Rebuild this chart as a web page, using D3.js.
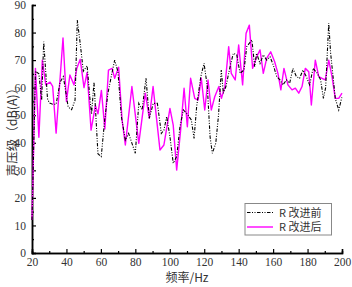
<!DOCTYPE html>
<html><head><meta charset="utf-8">
<script src="https://cdn.jsdelivr.net/npm/d3@7"></script>
<style>html,body{margin:0;padding:0;background:#fff;}svg{display:block;}</style>
</head><body>
<svg id="c" width="352" height="287"></svg>
<script>
// Series "R 改进前" (before) — frequency (Hz) and level dB(A)
const freqBefore = [20,22,24,25.6,26.8,29,30,32,34,36.3,38.2,41,43,45,46.3,48,49.8,52,53.7,54.6,56,58.3,60.2,62.2,64.1,66,68,69.9,71.9,74.2,76.1,80,82,83.9,86.2,88.1,90.4,92.8,95.1,96.6,98.2,100.1,102,104,105.9,107.9,109.8,112.5,114.1,115.6,118,119.9,121.8,123.4,124.7,126.7,128.3,129.9,131.1,132.6,135,136.9,138.9,140.8,143.1,144.7,147.7,149.3,150.4,152.4,154.3,156.3,158.2,160.1,162.1,164,165.7,167.7,169.6,171.5,173.5,175.4,177.3,179.3,181.2,183.2,185.7,187.6,189.2,190.5,192.3,193.4,194.8,196.1,198.1,200];
const levelBefore = [12,66,65,55.5,76.7,56,54.5,54,54,62,64,53,52,55.5,84.5,76,66,68,55.5,50.5,62,36,35,48.3,58,64,70,65.8,49.5,41,43.4,36.2,54.3,51.9,63.4,48.9,54.3,54.3,43.4,44.6,49.5,42.2,32.6,35,45.8,51.9,50.7,48.3,41.6,53.1,64,68.8,60.4,42.2,36.2,39.8,50,66.4,58,60.4,67.6,72.5,71.9,65.2,66.4,74.9,77.3,67.6,72.5,68.8,71.9,70,71.2,68.2,64,62.8,61,62.8,61.6,67,64,63.4,66.4,64,61,67,65.2,62.8,56.1,60,83.4,72.5,64,56.1,51.9,56.7];
// Series "R 改进后" (after)
const freqAfter = [20,22,24,26,28,30.5,32,34,38,40,42,44.4,46,48,50.2,52,54.3,56.8,58.3,60.3,62.3,64.4,66.5,68,70.3,72.3,74.2,78,82,85.8,88.1,90.3,94.3,96.6,100.1,102,104,106.3,108.3,110.2,112.1,114.5,116.4,118.3,120.3,122.2,124.1,126.1,128.5,130,132,134.2,135.7,138,140,142.3,144.3,146.2,148.1,150.5,152.4,154.3,156.3,158.6,160.9,162.8,164.5,166.3,168.6,171,172.9,174.9,176.8,178.7,180.7,182.2,184.5,186.5,188.4,190.3,192.3,194.2,196.1,198.1,200];
const levelAfter = [12,67,42,70,61,62,60.5,43.5,78,55,64.6,61,67,70.3,60,65.5,44.6,53.5,50.5,59,45,66.4,67,63.4,67.4,48.3,39.2,60.4,39.8,58,48.9,60.4,37.4,39.2,52.5,46.4,30.1,44.6,59.8,45.8,63.4,56.1,55.5,63.4,51.9,62.8,51.9,56.7,60.4,56.1,60.4,74.9,65.2,62.8,75.5,61,79.7,82.7,67,71.2,73.7,65.2,70.7,73,69.4,65.2,59.2,67,61,59.2,59.8,58,60.4,67,65.8,53.7,70,64,63.4,62.8,70,64,56.1,56.1,58];
const xTicks = [20,40,60,80,100,120,140,160,180,200];
const yTicks = [0,10,20,30,40,50,60,70,80,90];
const seriesNames = ["R 改进前","R 改进后"];
const xTitle = "频率/Hz";
const yTitle = "声压级（dB(A)）";

const svg = d3.select("#c");
const x = d3.scaleLinear().domain([20,200]).range([32,342]);
const y = d3.scaleLinear().domain([0,90]).range([253,5]);
const numFont = "'Liberation Serif','Times New Roman',serif";

// minor ticks
const xMinor = d3.range(30,200,20);
const yMinor = d3.range(5,90,10);

const gx = svg.append("g").attr("transform","translate(0,253)");
gx.call(d3.axisBottom(x).tickValues(xTicks).tickSize(-4).tickPadding(5).tickFormat(d3.format("d")));
gx.append("g").call(d3.axisBottom(x).tickValues(xMinor).tickSize(-2).tickFormat(""));
const gy = svg.append("g").attr("transform","translate(32,0)");
gy.call(d3.axisLeft(y).tickValues(yTicks).tickSize(-4).tickPadding(6).tickFormat(d3.format("d")));
gy.append("g").call(d3.axisLeft(y).tickValues(yMinor).tickSize(-2).tickFormat(""));
svg.selectAll(".domain").attr("stroke","#000").attr("stroke-width",1.5);
svg.selectAll(".tick line").attr("stroke","#000").attr("stroke-width",1.2);
svg.selectAll(".tick text").attr("font-family",numFont).attr("font-size",11.5).attr("fill","#333");

const line = d3.line().x(d=>x(d[0])).y(d=>y(d[1]));
const dataBefore = freqBefore.map((f,i)=>[f,levelBefore[i]]);
const dataAfter = freqAfter.map((f,i)=>[f,levelAfter[i]]);
const dashStyle = "3.5,1.5,1,1.5,1,1.5";

svg.append("path").datum(dataAfter).attr("d",line).attr("fill","none")
  .attr("stroke","#ff00ff").attr("stroke-width",1.4).attr("stroke-linejoin","round");
svg.append("path").datum(dataBefore).attr("d",line).attr("fill","none")
  .attr("stroke","#000").attr("stroke-width",1.1).attr("stroke-dasharray",dashStyle);

// axis titles
svg.append("text").attr("x",187).attr("y",282).attr("text-anchor","middle")
  .attr("font-family","'Noto Sans CJK SC',sans-serif").attr("font-size",12).attr("fill","#333").text(xTitle);
svg.append("text").attr("transform","translate(17,129) rotate(-90)").attr("text-anchor","middle")
  .attr("font-family","'Noto Sans CJK SC',sans-serif").attr("font-size",12.5).attr("fill","#333").text(yTitle);

// legend
const lg = svg.append("g");
lg.append("rect").attr("x",245).attr("y",203.5).attr("width",86.5).attr("height",31.5)
  .attr("fill","#fff").attr("stroke","#888").attr("stroke-width",1);
const styles = [{c:"#000",w:1.1,d:dashStyle},{c:"#ff00ff",w:1.4,d:null}];
seriesNames.forEach((n,i)=>{
  const yy = 212.5 + i*14.5;
  const l = lg.append("line").attr("x1",247).attr("x2",273).attr("y1",yy).attr("y2",yy)
    .attr("stroke",styles[i].c).attr("stroke-width",styles[i].w);
  if(styles[i].d) l.attr("stroke-dasharray",styles[i].d);
  lg.append("text").attr("x",279).attr("y",yy+4).attr("font-family","'Noto Sans CJK SC',sans-serif")
    .attr("font-size",11).attr("fill","#333").text(n);
});
</script>
</body></html>
